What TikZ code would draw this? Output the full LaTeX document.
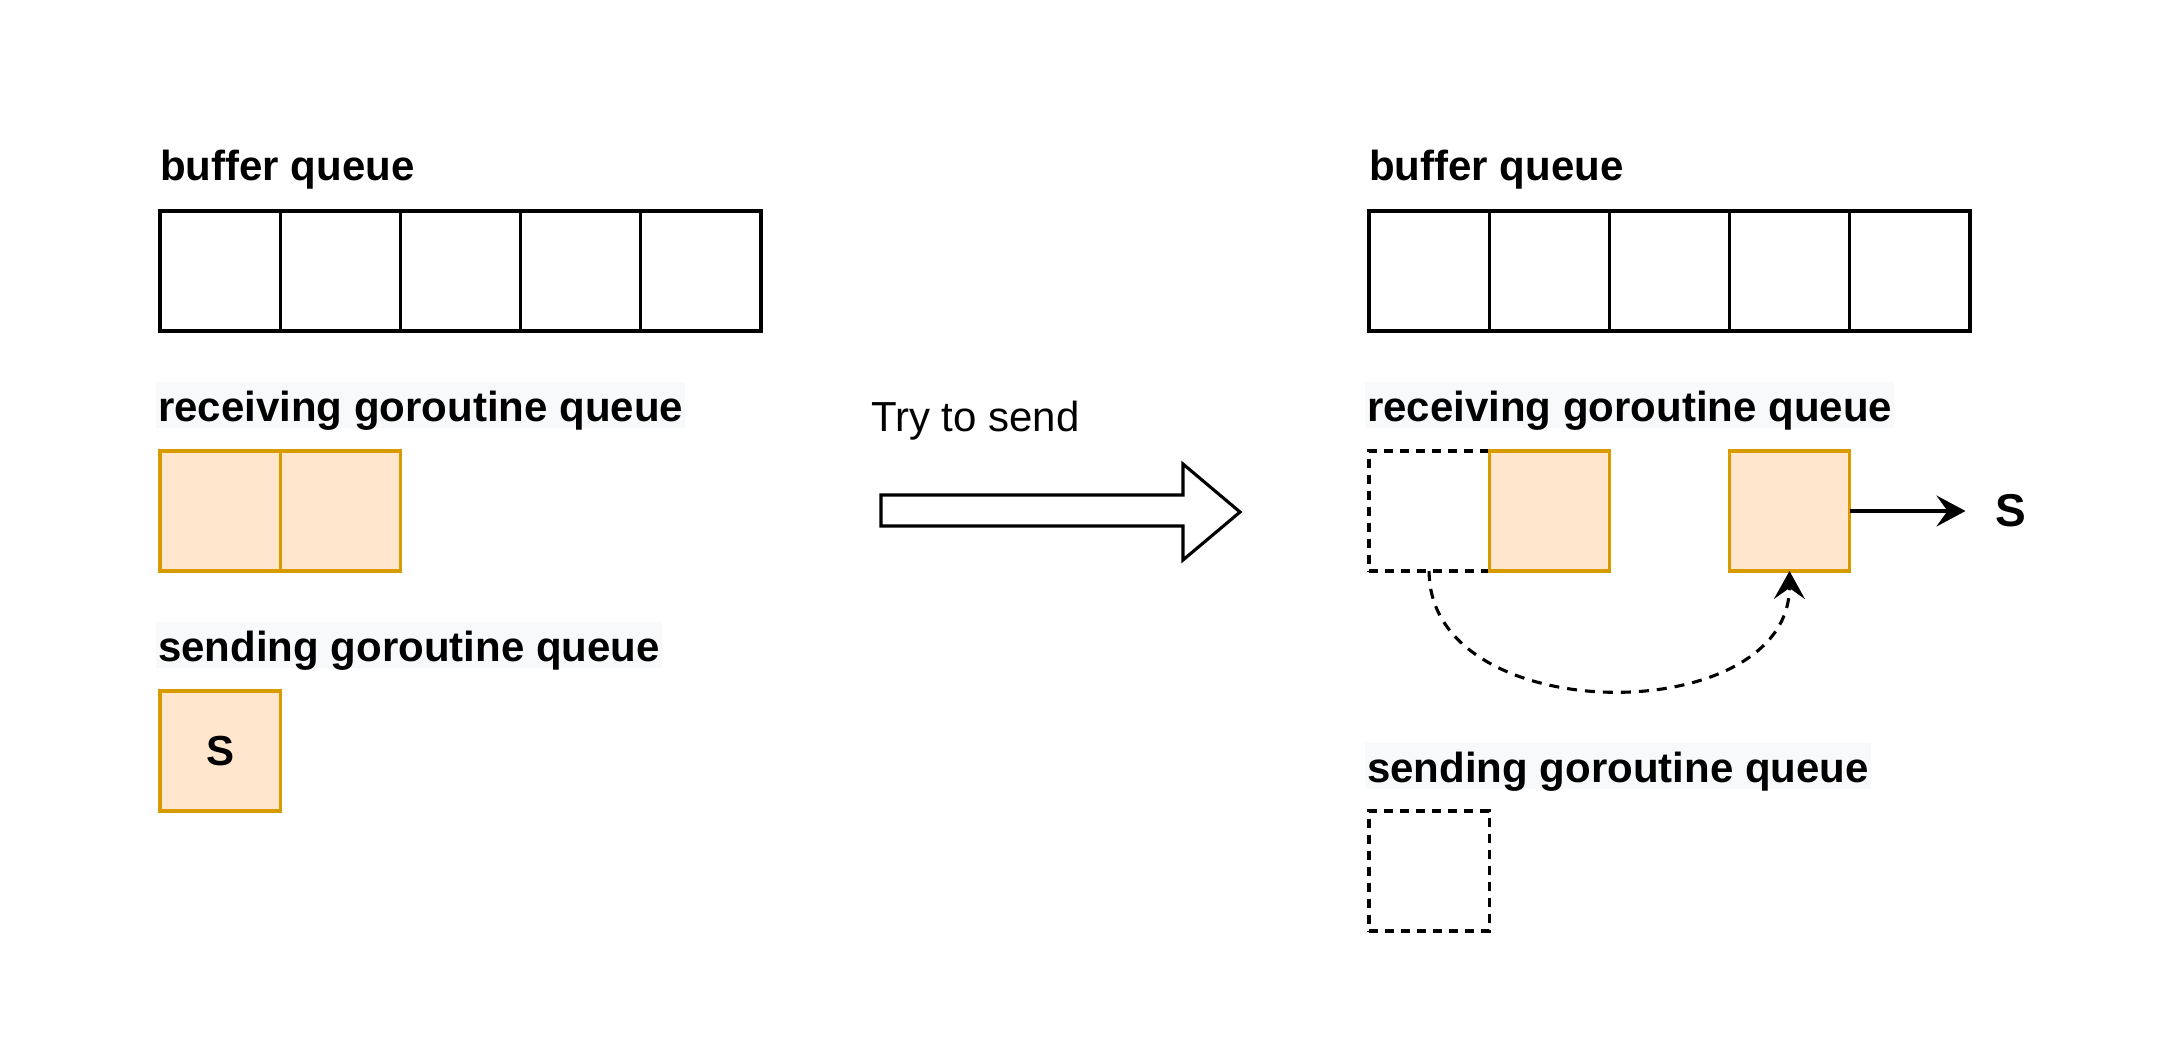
\documentclass[tikz,border=0pt]{standalone}
\usepackage{fontspec}
\setmainfont{Liberation Sans}
\usetikzlibrary{arrows.meta}
\definecolor{orfill}{HTML}{FFE6CC}
\definecolor{ordraw}{HTML}{D79B00}
\definecolor{labelbg}{HTML}{F8F9FA}
\begin{document}
\begin{tikzpicture}[x=1pt,y=-1pt,
  cell/.style={draw, line width=3.1pt, minimum width=120.2pt, minimum height=120pt, inner sep=0pt, outer sep=0pt},
  orangecell/.style={cell, draw=ordraw, fill=orfill},
  dashcell/.style={cell, dash pattern=on 9pt off 7pt},
  lbl/.style={anchor=west, inner xsep=2pt, inner ysep=0pt, minimum height=46pt, text height=33.4pt, text depth=0.8pt, font=\fontsize{42}{48}\selectfont\bfseries},
  bglabel/.style={lbl, fill=labelbg},
  bigfont/.style={font=\fontsize{42}{48}\selectfont\bfseries},
]
\useasboundingbox (0,0) rectangle (2178,1053);

% ---------- left side ----------
\node[lbl] (lbuf) at (158,164) {buffer queue};
\foreach \i/\x in {1/220.1,2/340.3,3/460.5,4/580.7,5/700.9}
  \node[cell] (lb\i) at (\x,271) {};

\node[bglabel] (lrecv) at (156,405) {receiving goroutine queue};
\node[orangecell] (lr1) at (220.1,511) {};
\node[orangecell] (lr2) at (340.3,511) {};

\node[bglabel] (lsend) at (156,645) {sending goroutine queue};
\node[orangecell, bigfont] (ls1) at (220.1,751) {S};

% ---------- middle arrow ----------
\node[anchor=west, inner sep=0pt, font=\fontsize{42}{48}\selectfont] (try) at (871,421) {Try to send};
\draw[line width=3.1pt, line join=miter] (881,495) -- (1183,495) -- (1183,464) -- (1240,512)
  -- (1183,560) -- (1183,526) -- (881,526) -- cycle;

% ---------- right side ----------
\node[lbl] (rbuf) at (1367,164) {buffer queue};
\foreach \i/\x in {1/1429.1,2/1549.3,3/1669.5,4/1789.7,5/1909.9}
  \node[cell] (rb\i) at (\x,271) {};

\node[bglabel] (rrecv) at (1365,405) {receiving goroutine queue};
\node[dashcell] (rd1) at (1429.1,511) {};
\node[orangecell] (rr2) at (1549.3,511) {};
\node[orangecell] (rr3) at (1789.5,511) {};

\node[inner sep=0pt, font=\fontsize{46}{52}\selectfont\bfseries] (sright) at (2011,511) {S};
\draw[line width=3.1pt, -{Stealth[length=29pt,width=31pt,inset=11pt]}, shorten >=30pt] (rr3.east) -- (sright.west);

\draw[line width=3.1pt, dash pattern=on 10pt off 8pt, -{Stealth[length=28pt,width=31pt,inset=11pt]}]
  (rd1.south) .. controls (1429,730) and (1789,730) .. (rr3.south);

\node[bglabel] (rsend) at (1365,766) {sending goroutine queue};
\node[dashcell] (rs1) at (1429.1,871) {};
\end{tikzpicture}
\end{document}
